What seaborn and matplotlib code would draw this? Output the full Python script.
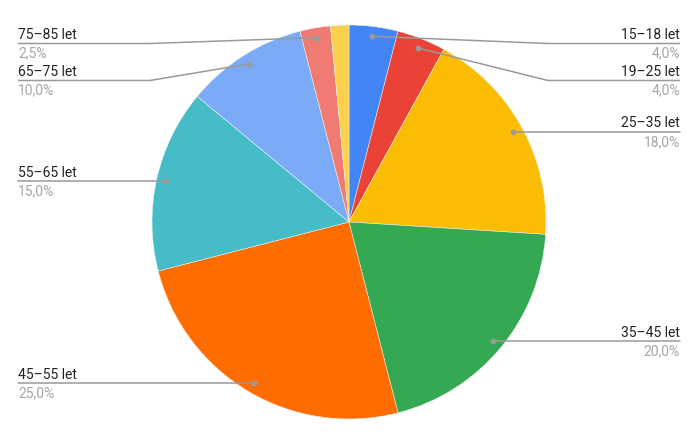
import numpy as np
import matplotlib
matplotlib.use('Agg')
import matplotlib.pyplot as plt
import seaborn as sns

# Data
categories = ['15–18 let', '19–25 let', '25–35 let', '35–45 let', '45–55 let',
              '55–65 let', '65–75 let', '75–85 let', '85+ let']
values = [4.0, 4.0, 18.0, 20.0, 25.0, 15.0, 10.0, 2.5, 1.5]
colors = ['#4285F4', '#EA4335', '#FBBC04', '#34A853', '#FF6D01',
          '#46BDC6', '#7BAAF7', '#F07B72', '#FCD04F']

sns.set_theme(style='white')
plt.rcParams['font.family'] = ['Roboto', 'DejaVu Sans']

W, H = 700, 434
fig = plt.figure(figsize=(W / 100, H / 100), dpi=100)
ax = fig.add_axes([0, 0, 1, 1])

cx, cy, R = 349, 222, 197
ax.pie(values, colors=colors, center=(cx, cy), radius=R, startangle=-90,
       counterclock=True, wedgeprops=dict(edgecolor='#f4f4f4', linewidth=0.35))
ax.set_xlim(0, W)
ax.set_ylim(H, 0)
ax.set_aspect('equal')
ax.axis('off')

# Label positions (Google-style leader lines)
total = sum(values)
fracs = np.array(values) / total
mids = np.cumsum(fracs) - fracs / 2
phi = mids * 2 * np.pi
rd = R * 0.95
dot_x = cx + rd * np.sin(phi)
dot_y = cy - rd * np.cos(phi)

line_col = '#9a9a9a'
show = [v >= 2 for v in values]
gap, top = 37, 43.5

for side in ('right', 'left'):
    idx = [i for i in range(len(values)) if show[i] and ((dot_x[i] >= cx) == (side == 'right'))]
    idx.sort(key=lambda i: dot_y[i])
    prev = -1e9
    for i in idx:
        ly = max(dot_y[i], prev + gap, top)
        prev = ly
        if side == 'right':
            xe, xt, ha = cx + R * 1.01, 680, 'right'
        else:
            xe, xt, ha = cx - R * 1.01, 18, 'left'
        if abs(ly - dot_y[i]) > 0.5:
            ax.plot([dot_x[i], xe, xt], [dot_y[i], ly, ly], color=line_col, lw=1.1,
                    solid_capstyle='butt')
        else:
            ax.plot([dot_x[i], xt], [ly, ly], color=line_col, lw=1.1)
        ax.plot(dot_x[i], dot_y[i], 'o', color=line_col, ms=4.2, mec='none')
        ax.text(xt, ly - 4.5, categories[i], ha=ha, va='baseline', fontsize=10, color='#222222')
        pct = f'{values[i]:.1f}'.replace('.', ',') + '%'
        ax.text(xt, ly + 14, pct, ha=ha, va='baseline', fontsize=10, color='#a6a6a6')

fig.savefig('out.png', dpi=100)
